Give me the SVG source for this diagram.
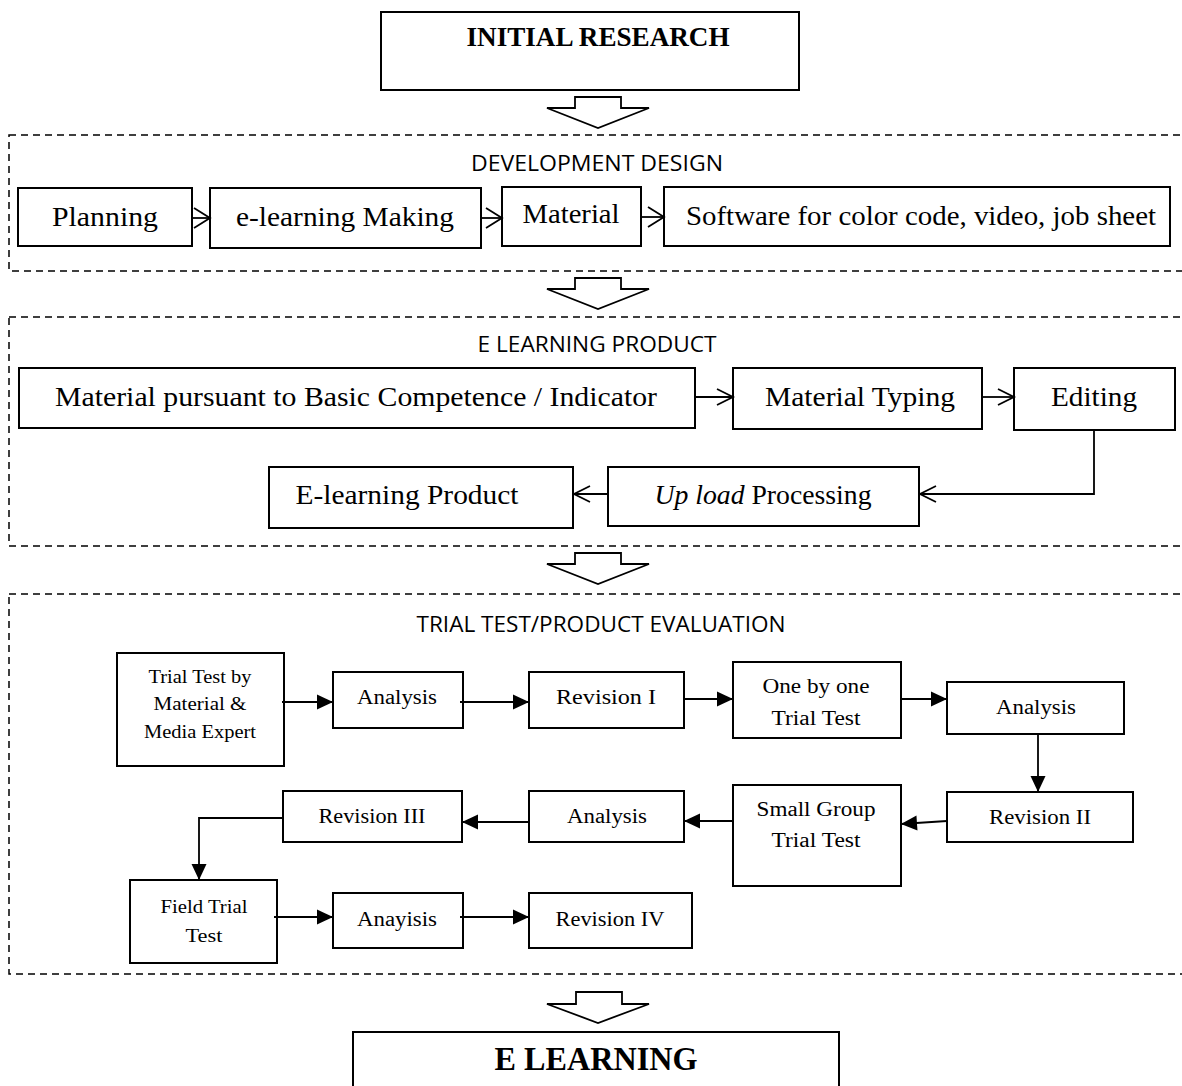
<svg xmlns="http://www.w3.org/2000/svg" width="1182" height="1086" viewBox="0 0 1182 1086">
<style>
.bg{fill:#fff}
.box{fill:#fff;stroke:#000;stroke-width:2}
.frame{fill:none;stroke:#000;stroke-width:1.5;stroke-dasharray:7 5}
.blk{fill:#fff;stroke:#000;stroke-width:1.8;stroke-linejoin:miter}
.t{font-family:"Liberation Serif","Times New Roman",serif;fill:#000;text-anchor:middle}
.big{font-size:28px}
.sm{font-size:20.5px}
.xs{font-size:19px}
.hd{font-family:"Open Sans","Liberation Sans",sans-serif;font-size:22px;fill:#000;text-anchor:middle}
.bold{font-weight:bold}
.ln{fill:none;stroke:#000;stroke-width:1.8}
.oa{marker-end:url(#open)}
.oab{marker-end:url(#openBig)}
.fa{marker-end:url(#fill)}
</style>
<defs>
<marker id="open" markerUnits="userSpaceOnUse" markerWidth="20" markerHeight="20" refX="17" refY="9" orient="auto" overflow="visible">
<path d="M1,1 L17,9 L1,17" fill="none" stroke="#000" stroke-width="1.8"/>
</marker>
<marker id="openBig" markerUnits="userSpaceOnUse" markerWidth="22" markerHeight="24" refX="17" refY="11" orient="auto" overflow="visible">
<path d="M1,1 L17,11 L1,21" fill="none" stroke="#000" stroke-width="1.8"/>
</marker>
<marker id="fill" markerUnits="userSpaceOnUse" markerWidth="18" markerHeight="16" refX="16" refY="7.5" orient="auto" overflow="visible">
<path d="M0,0 L16,7.5 L0,15 Z" fill="#000"/>
</marker>
</defs>
<rect class="bg" x="0" y="0" width="1182" height="1086"/>

<!-- section frames -->
<g id="frames">
<rect class="frame" x="9" y="135" width="1185" height="136"/>
<rect class="frame" x="9" y="317" width="1185" height="229"/>
<rect class="frame" x="9" y="594" width="1185" height="380"/>
<text class="hd" x="597" y="171" textLength="252" lengthAdjust="spacingAndGlyphs">DEVELOPMENT DESIGN</text>
<text class="hd" x="597" y="352" textLength="239" lengthAdjust="spacingAndGlyphs">E LEARNING PRODUCT</text>
<text class="hd" x="601" y="632" textLength="369" lengthAdjust="spacingAndGlyphs">TRIAL TEST/PRODUCT EVALUATION</text>
</g>

<!-- block arrows between stages -->
<g id="block-arrows">
<path class="blk" d="M575,97 H621 V108 H649 L598,128 L547,108 H575 Z"/>
<path class="blk" d="M575,278 H621 V289 H649 L598,309 L547,289 H575 Z"/>
<path class="blk" d="M575,553 H621 V564 H649 L598,584 L547,564 H575 Z"/>
<path class="blk" d="M576,992 H622 V1004 H649 L598,1023 L547,1004 H576 Z"/>
</g>

<g id="initial-research">
<rect class="box" x="381" y="12" width="418" height="78"/>
<text class="t bold" x="598" y="46" font-size="27" textLength="263" lengthAdjust="spacingAndGlyphs">INITIAL RESEARCH</text>
</g>

<!-- Development design -->
<g id="planning">
<rect class="box" x="18" y="188" width="174" height="58"/>
<text class="t big" x="105" y="226" textLength="106" lengthAdjust="spacingAndGlyphs">Planning</text>
</g>
<g id="elearning-making">
<rect class="box" x="210" y="188" width="271" height="60"/>
<text class="t big" x="345" y="226" textLength="218" lengthAdjust="spacingAndGlyphs">e-learning Making</text>
</g>
<g id="material">
<rect class="box" x="502" y="187" width="139" height="59"/>
<text class="t big" x="571" y="223" textLength="97" lengthAdjust="spacingAndGlyphs">Material</text>
</g>
<g id="software">
<rect class="box" x="664" y="187" width="506" height="59"/>
<text class="t big" x="921" y="225" textLength="470" lengthAdjust="spacingAndGlyphs">Software for color code, video, job sheet</text>
</g>

<!-- E learning product -->
<g id="material-pursuant">
<rect class="box" x="19" y="368" width="676" height="60"/>
<text class="t big" x="356" y="406" textLength="602" lengthAdjust="spacingAndGlyphs">Material pursuant to Basic Competence / Indicator</text>
</g>
<g id="material-typing">
<rect class="box" x="733" y="368" width="249" height="61"/>
<text class="t big" x="860" y="406" textLength="190" lengthAdjust="spacingAndGlyphs">Material Typing</text>
</g>
<g id="editing">
<rect class="box" x="1014" y="368" width="161" height="62"/>
<text class="t big" x="1094" y="406" textLength="86" lengthAdjust="spacingAndGlyphs">Editing</text>
</g>
<g id="upload-processing">
<rect class="box" x="608" y="467" width="311" height="59"/>
<text class="t big" x="763" y="504" textLength="217" lengthAdjust="spacingAndGlyphs"><tspan font-style="italic">Up load</tspan> Processing</text>
</g>
<g id="elearning-product">
<rect class="box" x="269" y="467" width="304" height="61"/>
<text class="t big" x="407" y="504" textLength="223" lengthAdjust="spacingAndGlyphs">E-learning Product</text>
</g>

<!-- Trial test -->
<g id="trial-expert">
<rect class="box" x="117" y="653" width="167" height="113"/>
<text class="t xs" x="200" y="683" textLength="103" lengthAdjust="spacingAndGlyphs">Trial Test by</text>
<text class="t xs" x="200" y="710" textLength="93" lengthAdjust="spacingAndGlyphs">Material  &amp;</text>
<text class="t xs" x="200" y="738" textLength="112" lengthAdjust="spacingAndGlyphs">Media Expert</text>
</g>
<g id="analysis-1">
<rect class="box" x="333" y="672" width="130" height="56"/>
<text class="t sm" x="397" y="704" textLength="80" lengthAdjust="spacingAndGlyphs">Analysis</text>
</g>
<g id="revision-1">
<rect class="box" x="529" y="672" width="155" height="56"/>
<text class="t sm" x="606" y="704" textLength="100" lengthAdjust="spacingAndGlyphs">Revision  I</text>
</g>
<g id="one-by-one">
<rect class="box" x="733" y="662" width="168" height="76"/>
<text class="t sm" x="816" y="693" textLength="107" lengthAdjust="spacingAndGlyphs">One by one</text>
<text class="t sm" x="816" y="725" textLength="89" lengthAdjust="spacingAndGlyphs">Trial Test</text>
</g>
<g id="analysis-2">
<rect class="box" x="947" y="682" width="177" height="52"/>
<text class="t sm" x="1036" y="714" textLength="80" lengthAdjust="spacingAndGlyphs">Analysis</text>
</g>
<g id="revision-2">
<rect class="box" x="947" y="792" width="186" height="50"/>
<text class="t sm" x="1040" y="824" textLength="102" lengthAdjust="spacingAndGlyphs">Revision II</text>
</g>
<g id="small-group">
<rect class="box" x="733" y="785" width="168" height="101"/>
<text class="t sm" x="816" y="816" textLength="119" lengthAdjust="spacingAndGlyphs">Small Group</text>
<text class="t sm" x="816" y="847" textLength="89" lengthAdjust="spacingAndGlyphs">Trial Test</text>
</g>
<g id="analysis-3">
<rect class="box" x="529" y="791" width="155" height="51"/>
<text class="t sm" x="607" y="823" textLength="80" lengthAdjust="spacingAndGlyphs">Analysis</text>
</g>
<g id="revision-3">
<rect class="box" x="283" y="791" width="179" height="51"/>
<text class="t sm" x="372" y="823" textLength="107" lengthAdjust="spacingAndGlyphs">Revision III</text>
</g>
<g id="field-trial">
<rect class="box" x="130" y="880" width="147" height="83"/>
<text class="t xs" x="204" y="913" textLength="87" lengthAdjust="spacingAndGlyphs">Field Trial</text>
<text class="t xs" x="204" y="942" textLength="37" lengthAdjust="spacingAndGlyphs">Test</text>
</g>
<g id="anayisis">
<rect class="box" x="333" y="893" width="130" height="55"/>
<text class="t sm" x="397" y="926" textLength="80" lengthAdjust="spacingAndGlyphs">Anayisis</text>
</g>
<g id="revision-4">
<rect class="box" x="529" y="893" width="163" height="55"/>
<text class="t sm" x="610" y="926" textLength="109" lengthAdjust="spacingAndGlyphs">Revision  IV</text>
</g>

<g id="e-learning">
<rect class="box" x="353" y="1032" width="486" height="60"/>
<text class="t bold" x="596" y="1070" font-size="34" textLength="203" lengthAdjust="spacingAndGlyphs">E LEARNING</text>
</g>

<!-- connectors -->
<g id="connectors">
<path class="ln oab" d="M192,218 H210"/>
<path class="ln oab" d="M481,218 H502"/>
<path class="ln oab" d="M641,217 H664"/>
<path class="ln oa" d="M695,397 H733"/>
<path class="ln oa" d="M982,397 H1014"/>
<path class="ln oa" d="M1094,430 V494 H920"/>
<path class="ln oa" d="M608,494 H574"/>
<path class="ln fa" d="M282,702 H333"/>
<path class="ln fa" d="M460,702 H529"/>
<path class="ln fa" d="M684,699 H733"/>
<path class="ln fa" d="M901,699 H947"/>
<path class="ln fa" d="M1038,734 V792"/>
<path class="ln fa" d="M947,821 L901,824"/>
<path class="ln fa" d="M733,821 H684"/>
<path class="ln fa" d="M529,822 H462"/>
<path class="ln fa" d="M283,818 H199 V880"/>
<path class="ln fa" d="M274,917 H333"/>
<path class="ln fa" d="M460,917 H529"/>
</g>
</svg>
